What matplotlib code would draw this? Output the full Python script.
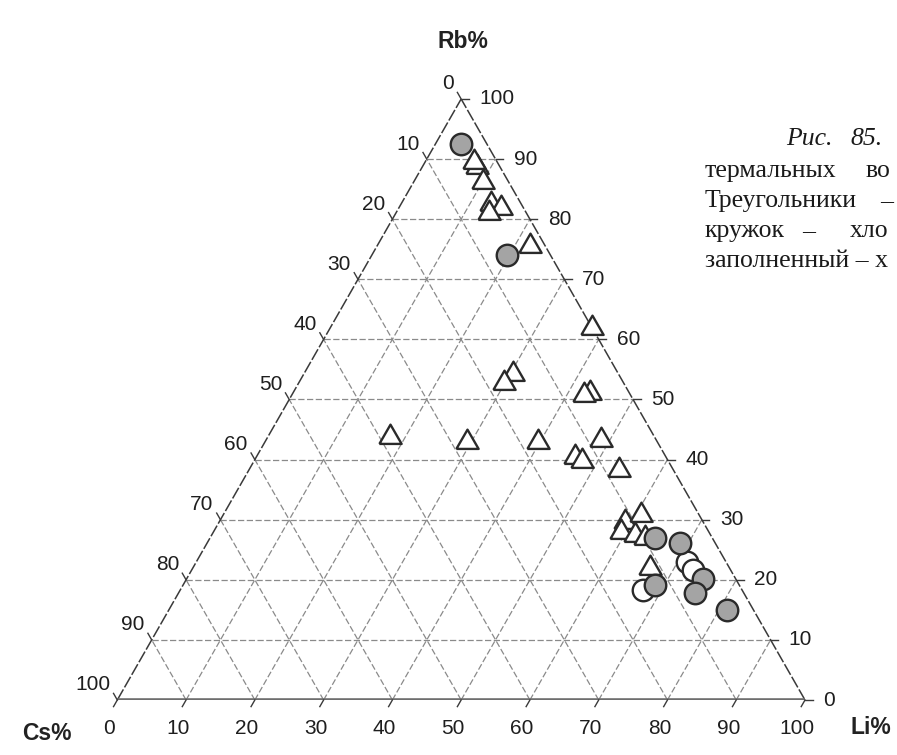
import numpy as np
import matplotlib
matplotlib.use("Agg")
import matplotlib.pyplot as plt

# ---------------- data (percent) ----------------
tri_li = [7.9, 7.1, 10.1, 13.1, 14.9, 13.5, 22.2, 38.1, 30.5, 29.8, 43.2, 42.5,
          17.8, 29.3, 39.7, 48.7, 46.3, 47.7, 53.8, 59.0, 60.8, 59.2, 61.6, 63.3, 66.5]
tri_rb = [88.7, 89.5, 86.2, 82.6, 81.8, 81.0, 75.5, 61.9, 54.2, 52.8, 51.0, 50.7,
          43.7, 43.0, 43.0, 43.3, 40.5, 39.7, 38.2, 29.7, 30.7, 28.0, 27.5, 27.0, 21.9]

fill_li = [3.7, 19.6, 64.7, 68.8, 75.1, 75.1, 81.1, 68.6]
fill_rb = [92.5, 74.0, 26.9, 26.1, 20.2, 17.8, 15.0, 19.1]

open_li = [71.3, 72.9, 67.3]
open_rb = [23.0, 21.6, 18.3]

tick_values = [0, 10, 20, 30, 40, 50, 60, 70, 80, 90, 100]
grid_values = [10, 20, 30, 40, 50, 60, 70, 80, 90]

axis_titles = {"top": "Rb%", "left": "Cs%", "right": "Li%"}
caption = [("Рис.", 786, 139, "italic"), ("85.", 850, 139, "italic"),
           ("термальных", 705, 171, "normal"), ("во", 866, 171, "normal"),
           ("Треугольники", 705, 201, "normal"), ("–", 880, 201, "normal"),
           ("кружок", 705, 231, "normal"), ("–", 802, 231, "normal"),
           ("хло", 850, 231, "normal"),
           ("заполненный – х", 705, 261, "normal")]

H = np.sqrt(3) / 2


def tern(li, rb):
    li = np.asarray(li, float)
    rb = np.asarray(rb, float)
    return li / 100 + rb / 200, rb / 100 * H


W, Hpx = 897, 755
fig = plt.figure(figsize=(W / 100, Hpx / 100), dpi=100)
fig.patch.set_facecolor("white")
x0, x1, yb, yt = 117.3, 805.0, 700.0, 99.0
ax = fig.add_axes([x0 / W, (Hpx - yb) / Hpx, (x1 - x0) / W, (yb - yt) / Hpx])
ax.set_xlim(0, 1)
ax.set_ylim(0, H)
ax.axis("off")

# grid
gkw = dict(color="#8a8a8a", lw=0.9, ls=(0, (5, 2)), zorder=1)
for v in grid_values:
    xa, ya = tern([0, 100 - v], [v, v])          # constant Rb
    ax.plot(xa, ya, **gkw)
    xa, ya = tern([v, v], [0, 100 - v])          # constant Li
    ax.plot(xa, ya, **gkw)
    xa, ya = tern([100 - v, 0], [0, 100 - v])    # constant Cs
    ax.plot(xa, ya, **gkw)

# edges
xa, ya = tern([0, 0], [0, 100])
ax.plot(xa, ya, color="#3a3a3a", lw=1.1, ls=(0, (8, 1.5)), zorder=2)
xa, ya = tern([100, 0], [0, 100])
ax.plot(xa, ya, color="#3a3a3a", lw=1.1, ls=(0, (8, 1.5)), zorder=2)
xa, ya = tern([0, 100], [0, 0])
ax.plot(xa, ya, color="#6e6e6e", lw=2.6, solid_capstyle="butt", zorder=2)

# ticks
tl = 0.011
tkw = dict(color="#3a3a3a", lw=1.0, zorder=2, clip_on=False)
for v in tick_values:
    bx, by = tern(v, 0)
    ax.plot([bx, bx - 0.5 * tl], [by, by - H * tl], **tkw)
    rx, ry = tern(100 - v, v)
    ax.plot([rx, rx + tl], [ry, ry], **tkw)
    lx, ly = tern(0, 100 - v)
    ax.plot([lx, lx - 0.5 * tl], [ly, ly + H * tl], **tkw)

# tick labels
lab = dict(fontsize=15, family="Liberation Sans", color="#1e1e1e")
for v in tick_values:
    bx, by = tern(v, 0)
    ax.annotate(str(v), (bx, by), xytext=(-8, -28), textcoords="offset pixels",
                ha="center", va="center", annotation_clip=False, **lab)
    rx, ry = tern(100 - v, v)
    ax.annotate(str(v), (rx, ry), xytext=(18, 0), textcoords="offset pixels",
                ha="left", va="center", annotation_clip=False, **lab)
    lx, ly = tern(0, 100 - v)
    ax.annotate(str(v), (lx, ly), xytext=(-7, 15), textcoords="offset pixels",
                ha="right", va="center", annotation_clip=False, **lab)

# axis titles
tkw2 = dict(fontsize=16.5, fontweight="bold", family="Liberation Sans", color="#222222",
            ha="center", va="center")
fig.text(463 / W, 1 - 41 / Hpx, axis_titles["top"], **tkw2)
fig.text(47 / W, 1 - 734 / Hpx, axis_titles["left"], **tkw2)
fig.text(871 / W, 1 - 728 / Hpx, axis_titles["right"], **tkw2)

# markers
tri_marker = [(-1, -0.57735), (1, -0.57735), (0, 1.1547), (-1, -0.57735)]
tx, ty = tern(tri_li, tri_rb)
ax.plot(tx, ty, ls="none", marker=tri_marker, ms=18.5, mfc="white",
        mec="#2a2a2a", mew=1.7, zorder=3, clip_on=False)
ox, oy = tern(open_li, open_rb)
ax.plot(ox, oy, ls="none", marker="o", ms=15.5, mfc="white",
        mec="#2a2a2a", mew=1.7, zorder=4, clip_on=False)
fx, fy = tern(fill_li, fill_rb)
ax.plot(fx, fy, ls="none", marker="o", ms=15.5, mfc="#a4a4a4",
        mec="#2a2a2a", mew=1.7, zorder=5, clip_on=False)

# caption fragment
for txt, px, py, st in caption:
    fig.text(px / W, 1 - py / Hpx, txt, fontsize=18.5, family="Liberation Serif",
             style=st, color="#1a1a1a", ha="left", va="center")

fig.savefig("out.png", dpi=100, facecolor="white")
